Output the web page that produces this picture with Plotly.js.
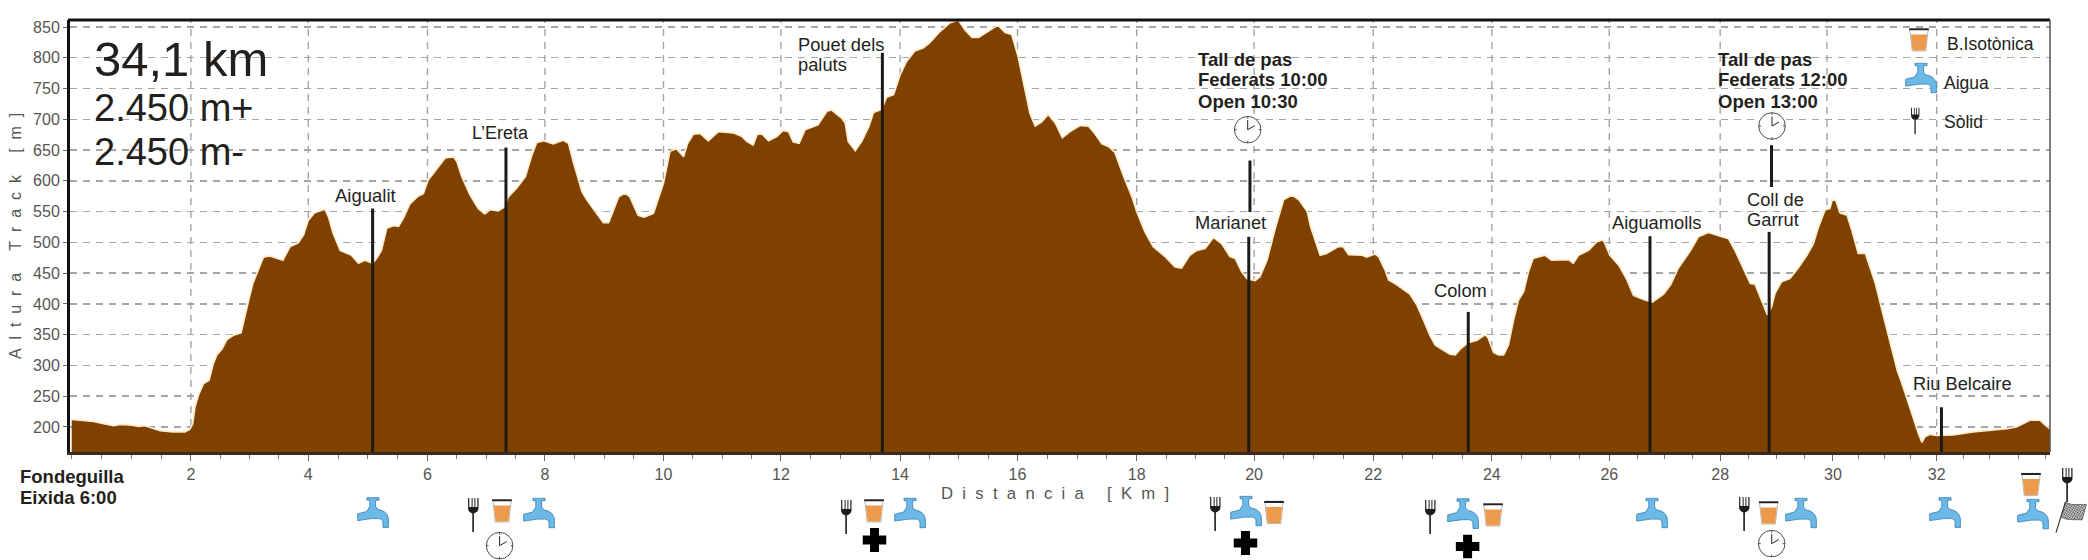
<!DOCTYPE html>
<html>
<head>
<meta charset="utf-8">
<script src="https://cdn.plot.ly/plotly-3.0.1.min.js"></script>
<style>html,body{margin:0;padding:0;background:#fff}#chart{width:2088px;height:560px}</style>
</head>
<body>
<div id="chart"></div>
<script>
// ---------- DATA ----------
const profileKm = [0,0.37,0.56,0.71,0.82,1.02,1.13,1.24,1.5,1.72,1.92,2.0,2.05,2.09,2.15,2.23,2.33,2.40,2.46,2.55,2.63,2.74,2.87,2.94,3.0,3.07,3.16,3.25,3.36,3.47,3.58,3.70,3.84,3.93,4.01,4.12,4.29,4.35,4.43,4.55,4.69,4.74,4.86,4.97,5.1,5.17,5.25,5.34,5.45,
5.54,5.62,5.73,5.87,5.96,6.04,6.19,6.33,6.47,6.53,6.61,6.75,6.89,7.0,7.09,7.23,7.34,7.40,7.54,7.69,7.80,7.88,8.0,8.16,8.33,8.42,8.50,8.65,8.73,8.84,9.01,9.10,9.18,9.27,9.38,9.46,9.60,9.70,9.86,9.93,10.03,10.14,10.25,10.37,10.44,10.54,10.65,10.79,10.96,
11.21,11.36,11.44,11.55,11.62,11.70,11.81,11.95,12.06,12.15,12.23,12.33,12.43,12.54,12.65,12.8,12.88,13.05,13.11,13.16,13.28,13.39,13.51,13.59,13.73,13.81,13.93,14.04,14.15,14.29,14.43,14.54,14.72,14.89,15.03,15.14,15.26,15.37,15.51,15.7,15.82,15.93,16.04,16.16,16.24,16.33,16.44,16.55,
16.67,16.79,16.92,17.09,17.23,17.34,17.46,17.57,17.68,17.83,17.97,18.05,18.19,18.33,18.53,18.7,18.81,18.95,19.07,19.21,19.35,19.49,19.63,19.72,19.83,19.92,20.06,20.14,20.26,20.40,20.54,20.68,20.80,20.94,21.0,21.16,21.27,21.47,21.55,21.64,21.87,21.95,22.09,22.15,22.26,
22.32,22.46,22.68,22.8,22.91,23.02,23.11,23.25,23.36,23.45,23.54,23.67,23.82,23.96,24.01,24.10,24.18,24.27,24.35,24.44,24.52,24.61,24.69,24.77,24.97,25.08,25.22,25.37,25.45,25.54,25.71,25.85,25.96,26.07,26.22,26.36,26.47,26.64,26.79,26.98,27.1,27.23,27.44,27.57,27.74,27.94,
28.08,28.2,28.33,28.45,28.53,28.64,28.74,28.81,28.87,28.98,29.12,29.26,29.41,29.52,29.6,29.72,29.8,29.84,29.9,29.97,30.09,30.17,30.28,30.4,30.57,30.71,30.85,30.94,31.05,31.19,31.3,31.36,31.41,31.5,31.61,31.89,32.23,32.8,32.96,33.19,33.36,33.45,33.53];
const profileAlt = [212,209,205,202,204,203,201,202,194,192,192,196,205,233,252,270,276,303,317,327,342,349,353,379,406,433,455,476,478,475,471,493,499,512,536,548,554,542,515,487,482,479,466,471,466,474,487,523,527,
526,539,562,575,579,601,620,637,639,631,607,577,555,546,553,551,558,574,588,607,642,662,665,660,666,661,631,582,569,555,532,532,553,574,580,574,544,541,547,566,596,648,652,639,661,676,677,665,680,
678,672,664,658,676,676,665,672,682,680,663,661,683,687,691,713,715,702,694,664,649,664,688,711,716,736,740,772,794,811,816,824,843,857,861,845,833,833,842,853,841,838,802,748,710,689,696,708,
694,670,680,690,689,677,660,656,646,607,574,550,517,493,477,460,458,479,487,490,508,498,477,474,452,441,438,444,471,523,569,577,569,550,525,479,482,493,493,480,479,476,481,477,455,
439,431,416,398,374,349,333,324,318,317,327,337,341,350,344,321,317,317,333,374,406,420,452,474,479,471,472,472,466,479,487,501,504,479,463,439,414,407,403,416,431,458,487,509,516,510,
506,485,458,433,432,406,382,395,417,436,441,458,479,498,523,553,555,569,568,548,544,520,482,482,433,379,327,292,262,219,189,175,184,188,186,187,192,197,200,211,211,203,197];

const kmTickLabels = ['2','4','6','8','10','12','14','16','18','20','22','24','26','28','30','32'];
const kmTickPositions = [2.02,4.01,6.03,8.02,10.03,12.02,14.04,16.03,18.05,20.04,22.06,24.07,26.06,27.94,29.85,31.61];
const kmGridPositions = [2.02,4.01,6.03,8.02,10.03,12.02,14.04,16.03,18.05,20.04,22.06,24.07,26.06,27.94,29.75,31.61];
const kmExtraMinor = [0,32.06,32.5,32.99,33.45];

// Station marker lines: km, altitude at the top end, altitude at the lower end
const stationKm     = [5.10,7.36,13.74,19.97,19.95,23.67,26.75,28.81,28.77,31.69];
const stationTop    = [555,654,808,633,509,387,510,658,517,232];
const stationBottom = [115.5,107,92,545,103,104,110,590,109,111];

// ---------- LAYOUT CONSTANTS ----------
const W = 2088, H = 560, L = 70, R = 38, T = 20, B = 108;
const PW = W - L - R, PH = H - T - B;
const px = x => (x - L) / PW;
const py = y => 1 - (y - T) / PH;

const ink = '#231f1c';
const FONT = '"Liberation Sans", Arial, sans-serif';
const NB = '\u00a0';
const spaced = (words) => words.map(w => Array.from(w).join(NB + NB)).join(NB.repeat(5));

// text, left px, centre-y px, size, bold, background, colour
const labels = [
  ['34,1 km', 94, 59, 49, 0],
  ['2.450 m+', 94, 108, 38, 0],
  ['2.450 m-', 94, 151.5, 38, 0],
  ['Aigualit', 335, 195.7, 18.5, 0],
  ["L\u2019Ereta", 471.7, 132.7, 18, 0],
  ['Pouet dels', 797.7, 44, 18.3, 0],
  ['paluts', 797.7, 64.3, 18.3, 0],
  ['Marianet', 1195, 222.3, 18.3, 0, '#fff'],
  ['Colom', 1434.3, 290.7, 18.3, 0],
  ['Aiguamolls', 1611.7, 222.3, 18.3, 0],
  ['Coll de', 1746.7, 199, 18.3, 0],
  ['Garrut', 1746.7, 219.3, 18.3, 0],
  ['Riu Belcaire', 1913.3, 383.3, 18.3, 0],
  ['B.Isot\u00f2nica', 1947.3, 44, 17.5, 0],
  ['Aigua', 1944, 83.3, 17.5, 0],
  ['S\u00f2lid', 1944, 121.7, 17.5, 0],
  ['Tall de pas', 1198.3, 59, 18.5, 1],
  ['Federats 10:00', 1198.3, 80, 18.5, 1],
  ['Open 10:30', 1198.3, 101, 18.5, 1],
  ['Tall de pas', 1718, 59, 18.5, 1],
  ['Federats 12:00', 1718, 80, 18.5, 1],
  ['Open 13:00', 1718, 101, 18.5, 1],
  ['Fondeguilla', 20, 476.8, 18.5, 1],
  ['Eixida 6:00', 20, 497.5, 18.5, 1],
  [spaced(['Distancia', '[Km]']), 941, 493, 16.7, 0, null, '#555']
];

// ---------- ICONS ----------
const svg = (w, h, body) => 'data:image/svg+xml;charset=utf-8,' + encodeURIComponent(
  `<svg xmlns="http://www.w3.org/2000/svg" width="${w * 4}" height="${h * 4}" viewBox="0 0 ${w} ${h}">${body}</svg>`);

const icons = {
  tap: {w: 32, h: 31, src: svg(32, 31,
    `<path d="M10 .7H22V3.2H18.6V9.6L21 12.6C27 13.2 31.4 17 31.4 23V30.4H26V25.5C26 23 24.2 21.6 21.5 21.6H14.5L.7 23.6V16.8L9.5 14.6L12.8 9.6V3.2H10Z" fill="#6cb8e6" stroke="#3f87b5" stroke-width=".9" stroke-linejoin="round"/>`)},
  glass: {w: 20, h: 24, src: svg(20, 24,
    `<rect x=".2" y=".3" width="19.6" height="2.2" fill="#222"/><path d="M1 2.5L3.2 23H16.8L19 2.5" fill="#fff" stroke="#9a9a9a" stroke-width=".7"/><path d="M1.8 6.5H18.2L16.4 22.5H3.6Z" fill="#ee9a4c"/>`)},
  fork: {w: 13, h: 34, src: svg(13, 34,
    `<path d="M1.6 0H2.8V9H5.1V0H6.1V9H7.9V0H8.9V9H10.8V0H12V10C12 13.5 9.4 14.6 7.4 15.4V34H5.8V15.4C3.8 14.6 1.6 13.5 1.6 10Z" fill="#1c1c1c"/>`)},
  clock: {w: 28, h: 28, src: svg(28, 28,
    `<circle cx="14" cy="14" r="13.3" fill="#fff" stroke="#222" stroke-width=".8"/><path d="M14 14V4.5M14 14L21 10" stroke="#222" stroke-width="1" fill="none"/><path d="M14 .7V3M14 25V27.3M.7 14H3M25 14H27.3" stroke="#222" stroke-width=".8"/>`)},
  cross: {w: 24, h: 24, src: svg(24, 24,
    `<path d="M7.5 0H16.5V7.5H24V16.5H16.5V24H7.5V16.5H0V7.5H7.5Z" fill="#000"/>`)},
  flag: {w: 32, h: 34, src: svg(32, 34,
    `<defs><pattern id="c" width="3" height="3" patternUnits="userSpaceOnUse" patternTransform="rotate(-14)"><rect width="3" height="3" fill="#fff"/><rect width="1.5" height="1.5" fill="#333"/><rect x="1.5" y="1.5" width="1.5" height="1.5" fill="#333"/></pattern></defs><path d="M10.5 3C16 7 24 5 31.5 5.5L27 21C20 20 12 22 6 18Z" fill="url(#c)" stroke="#333" stroke-width=".6"/><path d="M10.5 3L1 33.5" stroke="#333" stroke-width="1.1"/>`)}
};

// icon kind, centre x px, centre y px, optional scale
const iconPlacements = [
  ['tap',373,512.5],['tap',539,513],['tap',910,513],['tap',1246,511],['tap',1463,513.6],['tap',1652,513],['tap',1801,513],['tap',1945,512.5],['tap',2033,514],['tap',1921,78],
  ['glass',502,511],['glass',874,511],['glass',1274,512.5],['glass',1493,515],['glass',1768.6,513],['glass',2031,484.6],['glass',1919,40],
  ['fork',473,515],['fork',846,517],['fork',1215,514],['fork',1430,517],['fork',1744,514],['fork',2067,485],['fork',1915,121,0.8],
  ['clock',499.6,545.7],['clock',1247.7,129.7],['clock',1772,126],['clock',1771.7,543.6],
  ['cross',874.5,540],['cross',1245.5,543],['cross',1467.6,546.4],
  ['flag',2071,516]
];

const images = iconPlacements.map(([k, x, y, s]) => {
  const ic = icons[k], sc = s || 1;
  return {source: ic.src, xref: 'paper', yref: 'paper', x: px(x), y: py(y),
    sizex: sc * ic.w / PW, sizey: sc * ic.h / PH, xanchor: 'center', yanchor: 'middle',
    sizing: 'stretch', layer: 'above'};
});

const annotations = labels.map(([text, x, y, size, bold, bg, color]) => ({
  text: bold ? '<b>' + text + '</b>' : text,
  xref: 'paper', yref: 'paper', x: px(x), y: py(y),
  xanchor: 'left', yanchor: 'middle', showarrow: false, borderpad: 0, borderwidth: 0,
  bgcolor: bg || 'rgba(0,0,0,0)',
  font: {family: FONT, size, color: color || ink}
}));

// ---------- TRACES ----------
const stationX = [], stationY = [];
stationKm.forEach((k, i) => {
  stationX.push(k, k, null);
  stationY.push(stationTop[i], stationBottom[i], null);
});

const traces = [
  {type: 'scatter', mode: 'lines', x: profileKm, y: profileAlt, fill: 'tozeroy',
   fillcolor: '#7e4100', line: {color: '#fdeccb', width: 1.6, shape: 'linear'}, hoverinfo: 'x+y', showlegend: false},
  {type: 'scatter', mode: 'lines', x: stationX, y: stationY, cliponaxis: false,
   line: {color: '#1f1a16', width: 3, simplify: false}, hoverinfo: 'skip', showlegend: false}
];

// ---------- LAYOUT ----------
const gridShapes = kmGridPositions.map(k => ({
  type: 'line', layer: 'below', xref: 'x', yref: 'paper', x0: k, x1: k, y0: 0, y1: 1,
  line: {color: '#a5a5a5', width: 1.4, dash: '7px,6px'}
}));
const frame = [
  {type: 'line', layer: 'above', xref: 'paper', yref: 'paper', x0: -0.001, x1: 1, y0: 1, y1: 1, line: {color: '#111', width: 3}},
  {type: 'line', layer: 'above', xref: 'paper', yref: 'paper', x0: 1, x1: 1, y0: 0, y1: 1, line: {color: '#555', width: 1.5}}
];

const minorTicks = [kmExtraMinor[0]];
[0].concat(kmTickPositions).forEach((p, i, a) => {
  if (i < a.length - 1) {
    const s = (a[i + 1] - p) / 4;
    minorTicks.push(p + s, p + 2 * s, p + 3 * s);
  }
});
minorTicks.push(...kmExtraMinor.slice(1));

const layout = {
  width: W, height: H, paper_bgcolor: '#fff', plot_bgcolor: '#fff',
  margin: {l: L, r: R, t: T, b: B, pad: 0},
  showlegend: false, hovermode: 'closest',
  font: {family: FONT},
  xaxis: {
    range: [-0.029, 33.53], fixedrange: true, zeroline: false, showgrid: false,
    tickmode: 'array', tickvals: kmTickPositions, ticktext: kmTickLabels,
    ticks: 'outside', ticklen: 6, tickcolor: '#666', tickwidth: 1,
    tickfont: {family: FONT, size: 16, color: '#555'},
    showline: true, linecolor: '#3d2a1c', linewidth: 2.5,
    minor: {tickmode: 'array', tickvals: minorTicks, ticks: 'outside', ticklen: 4, tickcolor: '#777', tickwidth: 1, showgrid: false}
  },
  yaxis: {
    range: [159.3, 861.4], fixedrange: true, zeroline: false,
    tickmode: 'linear', tick0: 200, dtick: 50,
    showgrid: true, gridcolor: '#a5a5a5', gridwidth: 1.4, griddash: '7px,6px',
    ticks: 'outside', ticklen: 4, tickcolor: '#666',
    tickfont: {family: FONT, size: 16, color: '#555'},
    showline: true, linecolor: '#111', linewidth: 3,
    title: {text: spaced(['Altura', 'Track', '[m]']), standoff: 8, font: {family: FONT, size: 16, color: '#555'}}
  },
  shapes: gridShapes.concat(frame),
  annotations, images
};

Plotly.newPlot('chart', traces, layout, {staticPlot: true, displayModeBar: false});
</script>
</body>
</html>
